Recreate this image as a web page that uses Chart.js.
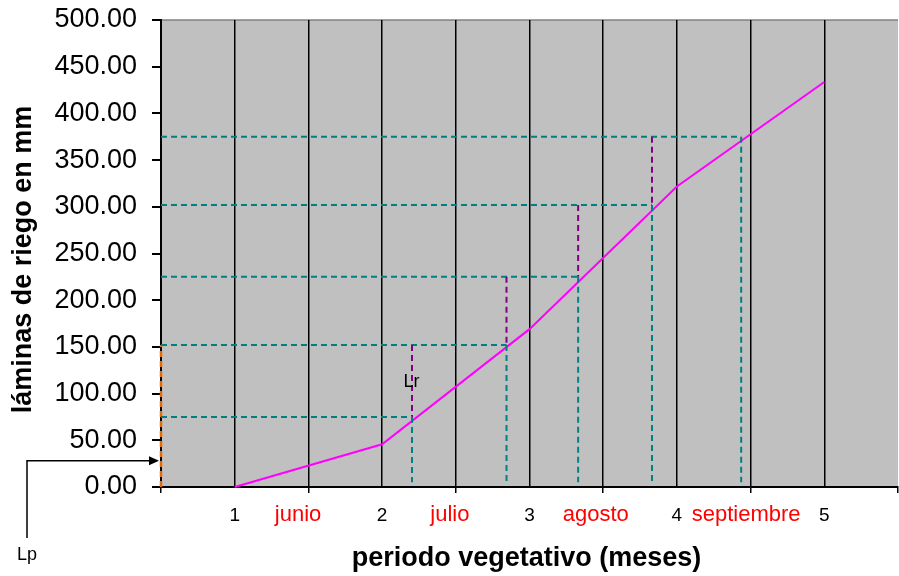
<!DOCTYPE html>
<html>
<head>
<meta charset="utf-8">
<script src="https://cdn.jsdelivr.net/npm/chart.js@4.4.0/dist/chart.umd.min.js"></script>
<style>
  html, body { margin: 0; padding: 0; background: #fff; }
  #wrap { width: 899px; height: 576px; position: relative; }
</style>
</head>
<body>
<div id="wrap"><canvas id="grafico"></canvas></div>
<script>
/* datos */
const MESES = [1, 2, 3, 4, 5];
const LAMINAS = [0, 45.7, 169, 321.7, 433.6];
const NOMBRES_MES = ['junio', 'julio', 'agosto', 'septiembre'];
const POS_NOMBRES = [1.43, 2.46, 3.45, 4.47];
const NIVELES = [75, 152, 225, 302, 375];          // laminas de riego (guias horizontales)
const CRUCES = [2.203, 2.844, 3.330, 3.831, 4.436]; // mes donde cada guia corta la curva
const BASE_GUIA = 5;
const LP_NIVEL = [0, 152];
const LP_FLECHA = 28;
const LR_TEXTO = [2.2, 107];

const FUENTE = "'Liberation Sans', Arial, sans-serif";
const TEAL = '#008080';
const MORADO = '#800080';
const NARANJA = '#E36C0A';

const trazo = (puntos, color, ancho, guion) => ({
  data: puntos,
  showLine: true,
  borderColor: color,
  borderWidth: ancho,
  borderDash: guion || [],
  pointRadius: 0,
  fill: false,
  clip: false,
});

const datasets = [];
NIVELES.forEach((nivel, i) => {
  datasets.push(trazo([{ x: 0.5, y: nivel }, { x: CRUCES[i], y: nivel }], TEAL, 2, [6, 4]));
  datasets.push(trazo([{ x: CRUCES[i], y: nivel }, { x: CRUCES[i], y: BASE_GUIA }], TEAL, 2, [6, 4]));
  if (i < NIVELES.length - 1) {
    datasets.push(trazo([{ x: CRUCES[i], y: NIVELES[i + 1] }, { x: CRUCES[i], y: nivel }], MORADO, 2, [6, 4]));
  }
});
datasets.push(trazo([{ x: 0.5, y: LP_NIVEL[0] }, { x: 0.5, y: LP_NIVEL[1] }], NARANJA, 2.5, [6, 4]));
datasets.push(trazo(MESES.map((m, i) => ({ x: m, y: LAMINAS[i] })), '#FF00FF', 2));

const fondo = {
  id: 'fondo',
  beforeDraw(chart) {
    const { ctx, chartArea: a } = chart;
    ctx.save();
    ctx.fillStyle = '#C0C0C0';
    ctx.fillRect(a.left, a.top, a.right - a.left, a.bottom - a.top);
    ctx.strokeStyle = '#808080';
    ctx.lineWidth = 1.5;
    ctx.beginPath();
    ctx.moveTo(a.left, a.top);
    ctx.lineTo(a.right, a.top);
    ctx.stroke();
    ctx.restore();
  },
};

const textos = {
  id: 'textos',
  afterDraw(chart) {
    const { ctx, chartArea: a, scales: { x, y } } = chart;
    ctx.save();
    ctx.textAlign = 'center';
    ctx.textBaseline = 'alphabetic';

    ctx.fillStyle = '#000';
    ctx.font = '19px ' + FUENTE;
    MESES.forEach(m => ctx.fillText(String(m), x.getPixelForValue(m), a.bottom + 34));

    ctx.fillStyle = '#FF0000';
    ctx.font = '22px ' + FUENTE;
    NOMBRES_MES.forEach((n, i) => ctx.fillText(n, x.getPixelForValue(POS_NOMBRES[i]), a.bottom + 34));

    ctx.fillStyle = '#000';
    ctx.font = 'bold 27px ' + FUENTE;
    ctx.fillText('periodo vegetativo (meses)', (a.left + a.right) / 2 - 3, a.bottom + 79);

    ctx.save();
    ctx.translate(31, (a.top + a.bottom) / 2 + 6);
    ctx.rotate(-Math.PI / 2);
    ctx.fillText('láminas de riego en mm', 0, 0);
    ctx.restore();

    ctx.font = '18px ' + FUENTE;
    ctx.fillText('Lr', x.getPixelForValue(LR_TEXTO[0]), y.getPixelForValue(LR_TEXTO[1]));

    /* flecha Lp */
    const yp = y.getPixelForValue(LP_FLECHA);
    const punta = x.getPixelForValue(0.5) - 2;
    const xl = 27;
    ctx.strokeStyle = '#000';
    ctx.lineWidth = 1.5;
    ctx.beginPath();
    ctx.moveTo(xl, a.bottom + 51);
    ctx.lineTo(xl, yp);
    ctx.lineTo(punta - 8, yp);
    ctx.stroke();
    ctx.fillStyle = '#000';
    ctx.beginPath();
    ctx.moveTo(punta, yp);
    ctx.lineTo(punta - 10, yp - 4.5);
    ctx.lineTo(punta - 10, yp + 4.5);
    ctx.closePath();
    ctx.fill();
    ctx.fillText('Lp', xl, a.bottom + 73);

    ctx.restore();
  },
};

new Chart(document.getElementById('grafico'), {
  type: 'scatter',
  data: { datasets },
  options: {
    responsive: true,
    maintainAspectRatio: false,
    animation: false,
    events: [],
    layout: { padding: { top: 20, right: 1, left: 0, bottom: 0 } },
    plugins: { legend: { display: false }, tooltip: { enabled: false } },
    scales: {
      x: {
        type: 'linear',
        min: 0.5,
        max: 5.5,
        ticks: { stepSize: 0.5, callback: () => '' },
        grid: {
          color: (c) => (c.tick && c.tick.value > 0.5 && c.tick.value < 5.5) ? '#000' : 'rgba(0,0,0,0)',
          tickColor: (c) => (c.tick && Math.abs(c.tick.value % 1 - 0.5) < 1e-6) ? '#000' : 'rgba(0,0,0,0)',
          lineWidth: 1.5,
          tickLength: 6,
          drawTicks: true,
        },
        border: { display: true, color: '#000', width: 2 },
        afterFit: (s) => { s.height = 89; s.paddingLeft = 0; s.paddingRight = 0; },
      },
      y: {
        min: 0,
        max: 500,
        ticks: {
          stepSize: 50,
          color: '#000',
          padding: 15,
          font: { family: FUENTE, size: 27 },
          callback: (v) => v.toFixed(2),
        },
        grid: { drawOnChartArea: false, drawTicks: true, tickLength: 9, color: '#000', lineWidth: 2 },
        border: { display: true, color: '#000', width: 2 },
        afterFit: (s) => { s.width = 161; s.paddingTop = 0; s.paddingBottom = 0; },
      },
    },
  },
  plugins: [fondo, textos],
});
</script>
</body>
</html>
